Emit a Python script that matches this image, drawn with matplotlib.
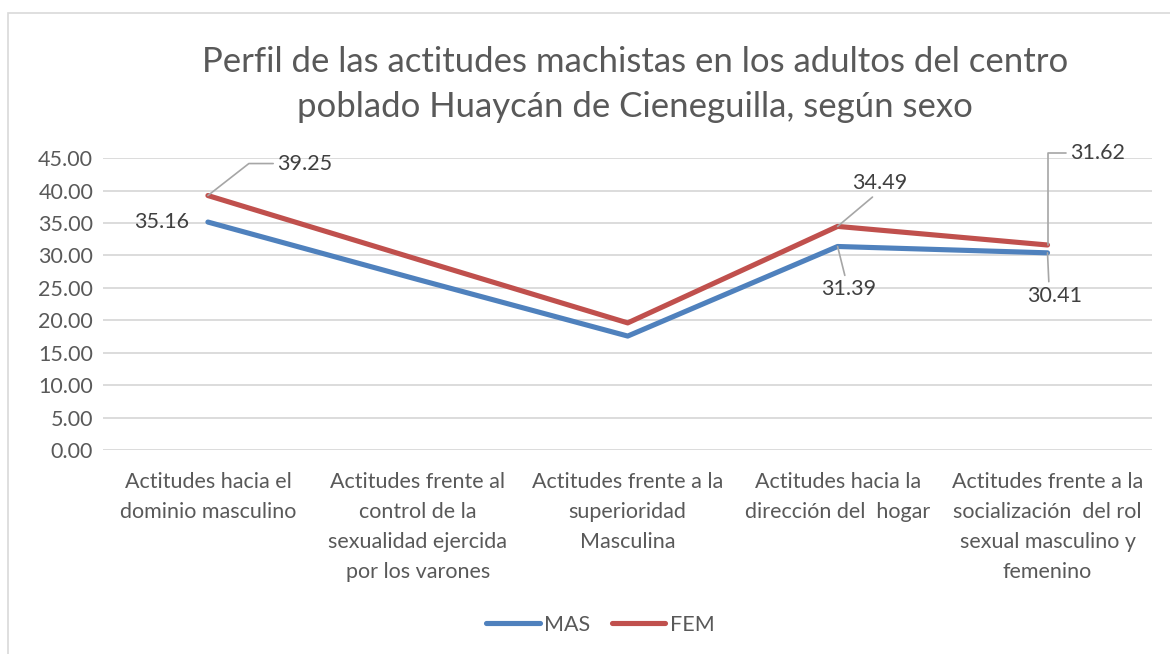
import numpy as np
from matplotlib import pyplot as plt
from matplotlib.patches import Rectangle

plt.rcParams['font.family'] = ['Lato', 'DejaVu Sans']

# Data
categorias = [
    "Actitudes hacia el\ndominio masculino",
    "Actitudes frente al\ncontrol de la\nsexualidad ejercida\npor los varones",
    "Actitudes frente a la\nsuperioridad\nMasculina",
    "Actitudes hacia la\ndirección del  hogar",
    "Actitudes frente a la\nsocialización  del rol\nsexual masculino y\nfemenino",
]
mas = [35.16, 26.3, 17.57, 31.39, 30.41]
fem = [39.25, 29.4, 19.6, 34.49, 31.62]

titulo = "Perfil de las actitudes machistas en los adultos del centro\npoblado Huaycán de Cieneguilla, según sexo"

c_mas = "#4F81BD"
c_fem = "#C0504D"
c_txt = "#595959"
c_lbl = "#404040"
fs = 15.5

fig = plt.figure(figsize=(11.7, 6.54), dpi=100)
ax = fig.add_axes([0.088, 0.312, 0.897, 0.446])

# chart frame
fig.patches.append(Rectangle((8 / 1170, -0.1), 1.2, 1.08 - 13 / 654 + 0.02,
                             transform=fig.transFigure, fill=False,
                             edgecolor="#D9D9D9", linewidth=1.2))

x = np.arange(len(categorias))
ax.plot(x, mas, color=c_mas, linewidth=3.7, solid_capstyle='round', label="MAS", zorder=3)
ax.plot(x, fem, color=c_fem, linewidth=3.7, solid_capstyle='round', label="FEM", zorder=3)

ax.set_xlim(-0.5, len(categorias) - 0.5)
ax.set_ylim(0, 45)
ax.set_yticks(np.arange(0, 45.01, 5))
ax.set_yticklabels([f"{v:.2f}" for v in np.arange(0, 45.01, 5)])
ax.set_xticks(x)
ax.set_xticklabels(categorias, linespacing=1.62)
ax.tick_params(axis='both', length=0, labelsize=fs, colors=c_txt)
ax.tick_params(axis='x', pad=16)
ax.tick_params(axis='y', pad=7)
for s in ax.spines.values():
    s.set_visible(False)
ax.grid(axis='y', color="#D9D9D9", linewidth=1.3)
ax.set_axisbelow(True)

# data labels (offsets in pixels from the point)
lp = dict(textcoords='offset pixels', fontsize=fs, color=c_lbl, ha='center', va='center')
line = dict(arrowstyle='-', color="#A6A6A6", lw=1.2, shrinkA=1, shrinkB=0)

ax.annotate(f"{mas[0]:.2f}", (x[0], mas[0]), xytext=(-46, 0), **lp)
ax.annotate(f"{fem[0]:.2f}", (x[0], fem[0]), xytext=(97, 32),
            arrowprops=dict(line, relpos=(0, 0.5), connectionstyle="angle,angleA=0,angleB=38,rad=0"), **lp)
ax.annotate(f"{fem[3]:.2f}", (x[3], fem[3]), xytext=(42, 43),
            arrowprops=dict(line, relpos=(0.45, 0)), **lp)
ax.annotate(f"{mas[3]:.2f}", (x[3], mas[3]), xytext=(11, -43),
            arrowprops=dict(line, relpos=(0.45, 1)), **lp)
ax.annotate(f"{fem[4]:.2f}", (x[4], fem[4]), xytext=(50, 92),
            arrowprops=dict(line, relpos=(0, 0.5), connectionstyle="angle,angleA=0,angleB=90,rad=0"), **lp)
ax.annotate(f"{mas[4]:.2f}", (x[4], mas[4]), xytext=(7, -43),
            arrowprops=dict(line, relpos=(0.4, 1)), **lp)

fig.text(0.543, 0.871, titulo, ha='center', va='center', fontsize=25,
         color=c_txt, linespacing=1.5)

fig.legend(loc='center', bbox_to_anchor=(0.513, 0.045), ncol=2, frameon=False,
           fontsize=fs, labelcolor=c_txt, handlelength=2.5, handletextpad=0.2,
           columnspacing=1.0)

fig.savefig("out.png", dpi=100)
